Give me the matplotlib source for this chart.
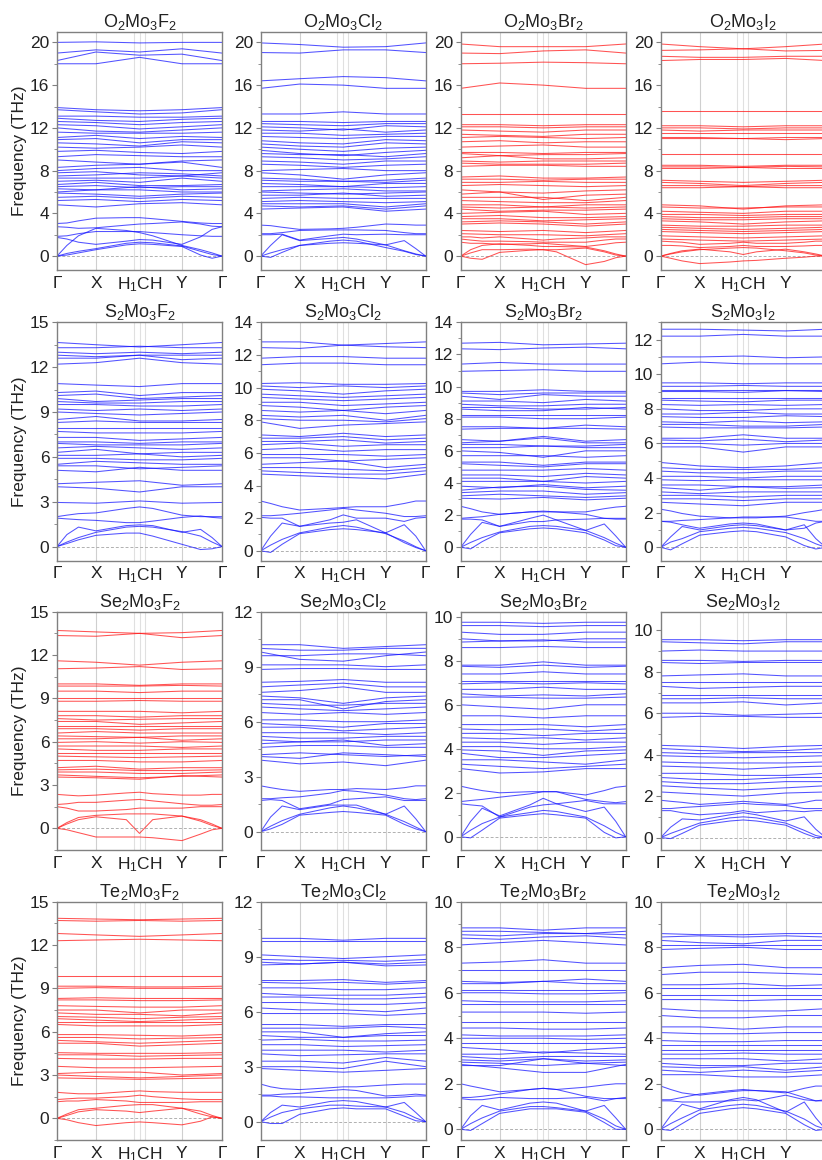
import re
import numpy as np
import matplotlib
matplotlib.use('Agg')
import matplotlib.pyplot as plt
from matplotlib.ticker import MultipleLocator, AutoMinorLocator

plt.rcParams['font.family'] = ['Liberation Sans', 'DejaVu Sans']
plt.rcParams['mathtext.default'] = 'regular'

# high-symmetry path (fraction of total path length)
K_TICKS = [0.0, 0.236, 0.465, 0.50, 0.532, 0.757, 1.0]
K_LABELS = ['Γ', 'X', '', 'H$_1$CH', '', 'Y', 'Γ']
K_OPT = [0.0, 0.236, 0.50, 0.757, 1.0]                                   # Γ X C Y Γ
K_LOW = [0.0, 0.06, 0.13, 0.236, 0.42, 0.50, 0.58, 0.757, 0.87, 0.94, 1.0]

NAMES = ['O2Mo3F2', 'O2Mo3Cl2', 'O2Mo3Br2', 'O2Mo3I2',
         'S2Mo3F2', 'S2Mo3Cl2', 'S2Mo3Br2', 'S2Mo3I2',
         'Se2Mo3F2', 'Se2Mo3Cl2', 'Se2Mo3Br2', 'Se2Mo3I2',
         'Te2Mo3F2', 'Te2Mo3Cl2', 'Te2Mo3Br2', 'Te2Mo3I2']
UNSTABLE = ['O2Mo3Br2', 'O2Mo3I2', 'Se2Mo3F2', 'Te2Mo3F2']

# optical bands: value at Γ, X, C, Y (scalar = flat)
# low bands: value at each K_LOW point except the closing Γ (optional 11th = closing Γ)
O2Mo3F2_OPT = [(20.0, 20.05, 19.95, 20.0), (19.0, 19.3, 19.1, 19.4), (18.3, 19.1, 18.8, 18.9),
               (18.0, 18.0, 18.6, 18.0), (13.9, 13.7, 13.6, 13.7), (13.7, 13.5, 13.3, 13.4),
               (13.1, 13.1, 13.0, 13.0), (12.9, 12.7, 12.6, 12.8), (12.6, 12.5, 12.3, 12.5),
               (12.3, 12.2, 11.9, 12.1), (12.0, 11.7, 11.6, 11.8), (11.6, 11.5, 11.5, 11.5),
               (11.1, 11.3, 11.0, 11.2), (10.9, 11.0, 10.6, 10.9), (10.6, 10.5, 10.3, 10.7),
               (10.2, 10.1, 10.2, 10.4), (9.8, 9.9, 9.7, 9.6), (9.3, 9.5, 9.4, 9.3),
               (9.0, 8.8, 8.6, 8.9), (8.3, 8.5, 8.6, 8.8), (8.0, 8.2, 8.3, 8.0),
               (7.8, 7.9, 7.6, 7.5), (7.5, 7.6, 7.8, 7.7), (7.3, 7.3, 7.3, 7.5),
               (7.0, 7.1, 6.9, 7.3), (6.7, 6.9, 6.6, 6.6), (6.5, 6.6, 6.4, 6.5),
               (6.3, 6.2, 6.5, 6.2), (6.0, 6.2, 6.2, 6.0), (5.9, 5.8, 5.6, 5.8),
               (5.5, 5.6, 5.4, 5.6), (5.2, 5.3, 5.1, 5.3), (4.8, 4.6, 4.9, 5.0)]
O2Mo3F2_LOW = [(3.05, 3.1, 3.3, 3.55, 3.6, 3.6, 3.5, 3.25, 3.1, 3.05),
               (2.75, 2.7, 2.6, 2.65, 2.9, 3.0, 3.05, 3.2, 3.0, 2.8),
               (1.85, 1.9, 2.1, 2.3, 2.3, 2.3, 2.2, 2.0, 1.9, 1.85),
               (1.75, 1.6, 1.3, 1.1, 1.4, 1.55, 1.5, 1.1, 1.8, 2.5, 2.75),
               (0, 1.0, 1.9, 2.6, 2.4, 2.2, 1.9, 1.0, 0.6, 0.3),
               (0, 0.25, 0.45, 0.7, 1.2, 1.3, 1.25, 0.95, 0.45, 0.15),
               (0, 0.1, 0.3, 0.6, 1.05, 1.15, 1.1, 0.9, 0.1, -0.2)]

O2Mo3Cl2_OPT = [(19.95, 19.8, 19.55, 19.6), (19.05, 19.0, 19.3, 19.3), (16.4, 16.6, 16.8, 16.7),
                (15.7, 16.1, 16.0, 15.7), (13.3, 13.3, 13.5, 13.3), (12.6, 12.6, 12.5, 12.6),
                (12.4, 12.3, 12.2, 12.4), (12.1, 12.0, 11.8, 12.2), (11.8, 11.7, 11.9, 11.6),
                (11.5, 11.5, 11.3, 11.4), (11.2, 11.1, 11.0, 11.2), (10.8, 10.6, 10.5, 10.9),
                (10.5, 10.3, 10.2, 10.6), (10.2, 10.0, 9.8, 10.1), (9.9, 9.6, 9.4, 9.7),
                (9.6, 9.5, 9.5, 9.3), (9.3, 9.2, 9.0, 9.1), (8.9, 8.8, 8.6, 8.9),
                (8.6, 8.5, 8.3, 8.5), (8.0, 8.1, 8.2, 8.0), (7.8, 7.6, 7.2, 7.6),
                (7.3, 7.2, 7.0, 7.1), (7.1, 7.0, 7.0, 6.9), (6.8, 6.7, 6.5, 6.8),
                (6.5, 6.5, 6.5, 6.4), (6.1, 6.2, 6.3, 6.1), (6.0, 5.9, 5.8, 5.9),
                (5.7, 5.7, 5.9, 5.6), (5.4, 5.5, 5.4, 5.4), (5.1, 5.2, 5.1, 5.0),
                (4.9, 4.9, 4.9, 4.6), (4.7, 4.6, 4.7, 4.4), (4.4, 4.5, 4.6, 4.2)]
O2Mo3Cl2_LOW = [(2.9, 2.85, 2.7, 2.5, 2.55, 2.6, 2.7, 3.0, 2.95, 2.9),
                (2.1, 2.1, 2.2, 2.4, 2.45, 2.45, 2.45, 2.4, 2.2, 2.1),
                (2.0, 2.0, 2.05, 1.5, 1.9, 2.05, 2.0, 2.05, 2.0, 2.0),
                (0, 1.0, 2.0, 1.45, 1.65, 1.75, 1.6, 1.05, 1.45, 0.7),
                (0, 0.3, 0.6, 1.0, 1.4, 1.5, 1.4, 0.8, 0.45, 0.15),
                (0, -0.12, 0.35, 1.0, 1.2, 1.25, 1.2, 1.05, 0.5, 0.2)]

O2Mo3Br2_OPT = [(19.85, 19.6, 19.6, 19.6), (19.0, 18.95, 19.2, 19.3), (18.0, 18.05, 18.15, 18.1),
                (15.7, 16.2, 16.0, 15.7), 13.3, (12.3, 12.3, 12.2, 12.3),
                (12.1, 12.1, 12.0, 12.1), (11.8, 11.7, 11.6, 11.8), (11.4, 11.3, 11.2, 11.4),
                (11.1, 11.2, 11.1, 11.0), (10.7, 10.8, 10.6, 10.7), (10.2, 10.3, 10.4, 10.2),
                (9.7, 9.7, 9.6, 9.7), (9.6, 9.4, 9.5, 9.5), (9.2, 9.4, 9.1, 9.1),
                (8.9, 8.8, 8.9, 8.9), (8.7, 8.6, 8.6, 8.6), (8.4, 8.5, 8.5, 8.4),
                (7.4, 7.5, 7.3, 7.3), (7.2, 7.2, 7.1, 7.2), (6.9, 6.9, 7.0, 6.9),
                (6.6, 6.7, 6.6, 6.5), (6.2, 6.0, 5.9, 6.1), (5.8, 6.0, 5.3, 5.7),
                (5.5, 5.5, 5.5, 5.2), (5.2, 5.1, 5.0, 5.0), (4.8, 4.8, 4.6, 4.8),
                (4.6, 4.5, 4.6, 4.5), (4.4, 4.2, 4.3, 4.3), (4.0, 4.1, 4.2, 3.9),
                (3.7, 3.8, 3.6, 3.6), (3.5, 3.5, 3.3, 3.4), (3.2, 3.3, 3.2, 3.0),
                (3.0, 3.1, 3.0, 2.8), (2.4, 2.3, 2.4, 2.2), (2.1, 2.0, 2.0, 1.9)]
O2Mo3Br2_LOW = [(1.8, 1.8, 1.7, 1.8, 1.6, 1.5, 1.6, 1.7, 1.8, 1.8),
                (1.6, 1.5, 1.4, 1.4, 1.35, 1.3, 1.3, 1.3, 1.5, 1.6),
                (1.3, 1.2, 1.2, 1.1, 1.15, 1.2, 1.1, 0.9, 1.1, 1.25),
                (0, 0.6, 1.0, 1.15, 1.0, 0.9, 0.9, 0.85, 0.5, 0.2),
                (0, -0.2, -0.3, 0.35, 0.55, 0.6, 0.4, -0.8, -0.5, -0.15),
                (0, 0.3, 0.6, 0.6, 0.65, 0.6, 0.6, 0.75, 0.4, 0.1)]

O2Mo3I2_OPT = [(19.85, 19.6, 19.4, 19.6), (19.25, 19.3, 19.4, 19.2), (18.7, 18.6, 18.6, 18.7),
               (18.3, 18.4, 18.4, 18.5), 13.6, (12.2, 12.2, 12.1, 12.2),
               (12.0, 12.0, 11.9, 12.0), (11.8, 11.7, 11.8, 11.8), (11.5, 11.5, 11.5, 11.5),
               (11.1, 11.1, 11.0, 11.1), (11.0, 11.0, 11.0, 10.9), 9.6,
               (8.5, 8.5, 8.4, 8.5), (8.35, 8.35, 8.3, 8.4), (8.2, 8.2, 8.3, 8.2),
               (7.1, 7.0, 6.9, 7.0), (6.9, 6.8, 6.6, 6.8), (6.6, 6.6, 6.5, 6.6),
               (6.4, 6.4, 6.5, 6.4), (4.8, 4.7, 4.4, 4.7), (4.6, 4.5, 4.5, 4.6),
               (4.2, 4.1, 4.0, 4.2), (3.9, 3.9, 3.8, 3.9), (3.7, 3.6, 3.6, 3.7),
               (3.5, 3.4, 3.4, 3.5), (3.3, 3.2, 3.0, 3.2), (2.9, 2.8, 2.8, 2.9),
               (2.7, 2.6, 2.5, 2.6), (2.5, 2.4, 2.3, 2.4), (2.3, 2.2, 2.1, 2.2),
               (1.9, 1.8, 1.7, 1.8), (1.6, 1.5, 1.4, 1.5)]
O2Mo3I2_LOW = [(1.4, 1.35, 1.3, 1.1, 1.2, 1.3, 1.2, 1.2, 1.3, 1.4),
               (1.0, 1.0, 0.95, 0.8, 0.9, 1.0, 0.9, 0.9, 0.95, 1.0),
               (0, 0.25, 0.5, 0.65, 0.4, 0.15, 0.4, 0.65, 0.4, 0.2),
               (0, 0.2, 0.4, 0.6, 0.75, 0.8, 0.75, 0.5, 0.3, 0.1),
               (0, -0.2, -0.45, -0.7, -0.55, -0.45, -0.4, -0.2, -0.1, 0.0)]

S2Mo3F2_OPT = [(13.65, 13.5, 13.35, 13.5), (13.3, 13.3, 13.4, 13.3), (13.0, 12.9, 13.0, 12.9),
               (12.8, 12.7, 12.8, 12.8), (12.6, 12.6, 12.8, 12.5), (12.2, 12.3, 12.6, 12.3),
               (10.9, 10.8, 10.7, 10.9), (10.3, 10.4, 10.1, 10.3), (10.1, 10.2, 9.9, 10.0),
               (9.9, 9.7, 9.8, 9.9), (9.7, 9.6, 9.6, 9.7), (9.5, 9.5, 9.4, 9.4),
               (9.2, 9.1, 9.2, 9.1), (9.0, 8.9, 8.8, 8.9), (8.5, 8.7, 8.4, 8.4),
               (8.3, 8.4, 8.3, 8.3), (7.9, 7.9, 7.9, 7.9), (7.7, 7.6, 7.6, 7.6),
               (7.3, 7.3, 7.1, 7.2), (7.0, 7.0, 6.9, 7.0), (6.9, 6.8, 6.8, 6.8),
               (6.6, 6.7, 6.6, 6.5), (6.3, 6.5, 6.2, 6.3), (6.1, 6.1, 6.2, 6.0),
               (5.9, 5.9, 5.8, 5.8), (5.5, 5.7, 5.6, 5.5), (5.4, 5.4, 5.2, 5.3),
               (5.1, 5.0, 5.3, 5.1), (4.2, 4.3, 4.4, 4.1), (4.0, 3.9, 3.65, 4.0),
               (2.95, 2.9, 3.05, 2.9)]
S2Mo3F2_LOW = [(2.0, 2.1, 2.2, 2.25, 2.55, 2.65, 2.55, 2.1, 2.0, 2.0),
               (1.9, 1.85, 1.8, 1.75, 1.6, 1.6, 1.7, 1.95, 2.05, 1.95),
               (0, 0.8, 1.3, 1.05, 1.4, 1.45, 1.4, 0.95, 1.15, 0.6),
               (0, 0.3, 0.6, 0.95, 1.3, 1.35, 1.3, 1.0, 0.7, 0.3),
               (0, 0.2, 0.45, 0.75, 0.9, 0.9, 0.7, 0.15, -0.2, -0.15)]

S2Mo3Cl2_OPT = [(12.8, 12.8, 12.6, 12.7), (12.45, 12.4, 12.6, 12.5), (11.8, 11.9, 11.9, 11.8),
                (11.4, 11.5, 11.5, 11.4), (10.25, 10.3, 10.2, 10.2), (10.1, 10.0, 10.1, 10.0),
                (9.9, 9.8, 9.6, 9.8), (9.6, 9.5, 9.4, 9.5), (9.4, 9.3, 9.2, 9.3),
                (9.1, 9.1, 8.9, 9.0), (8.9, 8.8, 8.6, 8.8), (8.6, 8.5, 8.6, 8.4),
                (8.3, 8.2, 8.3, 8.0), (8.1, 8.0, 8.0, 7.9), (7.9, 7.5, 7.7, 7.8),
                (7.1, 7.0, 7.2, 7.0), (6.9, 6.9, 7.0, 6.8), (6.7, 6.7, 6.8, 6.6),
                (6.5, 6.6, 6.4, 6.5), (6.2, 6.3, 6.1, 6.2), (5.9, 5.9, 5.9, 5.8),
                (5.7, 5.7, 5.5, 5.6), (5.3, 5.4, 5.5, 5.1), (5.1, 5.1, 5.0, 4.9),
                (4.9, 4.8, 4.7, 4.7), (4.7, 4.6, 4.5, 4.4)]
S2Mo3Cl2_LOW = [(3.05, 2.9, 2.7, 2.5, 2.6, 2.65, 2.7, 2.7, 2.9, 3.05),
                (2.15, 2.15, 2.2, 2.3, 2.5, 2.6, 2.5, 2.3, 2.1, 2.1),
                (2.05, 2.0, 2.0, 1.5, 1.9, 2.2, 2.0, 2.0, 1.8, 2.0),
                (0, 0.9, 1.7, 1.5, 1.7, 1.75, 1.9, 1.1, 1.6, 0.9),
                (0, 0.35, 0.7, 1.1, 1.45, 1.55, 1.45, 1.05, 0.6, 0.25),
                (0, -0.1, 0.4, 1.05, 1.3, 1.35, 1.3, 1.1, 0.5, 0.2)]

S2Mo3Br2_OPT = [(12.7, 12.75, 12.6, 12.65), (12.35, 12.3, 12.4, 12.45), (11.4, 11.5, 11.4, 11.4),
                (10.95, 11.0, 11.05, 10.95), (9.7, 9.7, 9.8, 9.7), (9.6, 9.5, 9.6, 9.6),
                (9.4, 9.2, 9.5, 9.4), (9.1, 9.1, 9.0, 9.2), (8.9, 8.8, 8.8, 8.9),
                (8.7, 8.7, 8.6, 8.6), (8.6, 8.5, 8.5, 8.7), (8.2, 8.2, 8.2, 8.2),
                (8.1, 8.1, 8.0, 8.0), (7.5, 7.5, 7.4, 7.6), (7.35, 7.4, 7.4, 7.4),
                (6.7, 6.6, 6.9, 6.6), (6.5, 6.6, 6.8, 6.5), (6.4, 6.4, 6.3, 6.3),
                (6.2, 6.2, 6.3, 6.2), (6.0, 5.9, 5.6, 6.0), (5.7, 5.7, 5.7, 5.6),
                (5.3, 5.3, 5.1, 5.3), (5.2, 5.1, 5.0, 5.2), (4.8, 4.8, 4.8, 4.9),
                (4.5, 4.5, 4.4, 4.6), (4.3, 4.3, 4.1, 4.4), (4.1, 4.1, 4.1, 4.0),
                (3.8, 3.7, 3.9, 3.7), (3.55, 3.75, 3.8, 3.6), (3.4, 3.5, 3.5, 3.3),
                (3.2, 3.3, 3.2, 3.1), (3.05, 3.0, 3.1, 2.95)]
S2Mo3Br2_LOW = [(2.55, 2.4, 2.2, 2.05, 2.2, 2.2, 2.2, 2.2, 2.4, 2.5),
                (1.8, 1.85, 1.9, 2.05, 2.2, 2.25, 2.2, 2.05, 1.8, 1.8),
                (1.75, 1.75, 1.7, 1.3, 1.8, 2.0, 1.7, 1.75, 1.8, 1.75),
                (0, 0.8, 1.55, 1.3, 1.6, 1.6, 1.7, 1.05, 1.45, 0.7),
                (0, 0.3, 0.6, 0.95, 1.3, 1.35, 1.3, 1.05, 0.6, 0.25),
                (0, -0.1, 0.35, 0.9, 1.15, 1.2, 1.15, 0.9, 0.45, 0.1)]

S2Mo3I2_OPT = [(12.6, 12.6, 12.55, 12.5), (12.2, 12.2, 12.3, 12.2), (11.0, 11.0, 11.05, 10.95),
               (10.6, 10.7, 10.6, 10.6), (9.5, 9.5, 9.45, 9.5), (9.3, 9.3, 9.35, 9.3),
               (9.1, 9.1, 9.1, 9.1), (9.0, 9.0, 8.95, 9.05), (8.6, 8.6, 8.6, 8.6),
               (8.5, 8.45, 8.4, 8.5), (8.25, 8.2, 8.25, 8.2), (8.0, 7.9, 7.9, 8.0),
               (7.7, 7.7, 7.8, 7.7), (7.55, 7.5, 7.5, 7.6), (7.25, 7.2, 7.3, 7.2),
               (7.1, 7.1, 7.0, 7.0), (6.95, 6.9, 6.9, 6.9), (6.3, 6.3, 6.5, 6.3),
               (6.2, 6.15, 6.25, 6.1), (6.0, 6.0, 5.9, 6.0), (5.8, 5.8, 5.5, 5.8),
               (4.9, 4.7, 4.6, 4.7), (4.6, 4.5, 4.5, 4.5), (4.4, 4.3, 4.3, 4.4),
               (4.1, 4.1, 4.0, 4.1), (3.9, 3.85, 3.9, 3.9), (3.6, 3.6, 3.5, 3.5),
               (3.45, 3.3, 3.5, 3.4), (3.2, 3.1, 3.2, 3.2), (3.0, 3.0, 2.9, 3.0),
               (2.8, 2.8, 2.7, 2.8), (2.6, 2.5, 2.4, 2.6)]
S2Mo3I2_LOW = [(2.2, 2.1, 1.95, 1.8, 1.7, 1.7, 1.7, 1.8, 2.0, 2.1),
               (1.5, 1.5, 1.55, 1.6, 1.7, 1.75, 1.75, 1.75, 1.6, 1.5),
               (1.5, 1.45, 1.3, 1.1, 1.35, 1.4, 1.35, 1.0, 1.1, 1.4),
               (0, 0.6, 1.2, 1.0, 1.25, 1.3, 1.25, 1.0, 1.3, 0.5),
               (0, 0.3, 0.5, 0.9, 1.1, 1.15, 1.1, 0.85, 0.5, 0.2),
               (0, -0.15, 0.2, 0.7, 0.9, 0.95, 0.9, 0.6, 0.1, -0.1)]

Se2Mo3F2_OPT = [(13.7, 13.6, 13.5, 13.55), (13.35, 13.3, 13.5, 13.2), (11.6, 11.5, 11.3, 11.5),
                (11.05, 11.1, 11.2, 11.0), (10.0, 10.0, 9.9, 10.0), (9.85, 9.85, 9.85, 9.9),
                (9.5, 9.5, 9.4, 9.5), (9.0, 9.0, 9.0, 9.0), (8.8, 8.8, 8.85, 8.8),
                (8.1, 8.1, 8.1, 8.0), (7.8, 7.8, 7.7, 7.8), (7.6, 7.5, 7.55, 7.6),
                (7.4, 7.4, 7.2, 7.3), (7.1, 7.1, 7.1, 7.1), (6.9, 6.9, 6.8, 6.9),
                (6.6, 6.7, 6.6, 6.6), (6.4, 6.35, 6.3, 6.4), (6.2, 6.2, 6.3, 6.1),
                (5.95, 6.0, 5.9, 6.0), (5.7, 5.7, 5.7, 5.6), (5.5, 5.4, 5.4, 5.5),
                (5.2, 5.2, 5.2, 5.2), (5.0, 4.95, 4.9, 4.95), (4.7, 4.7, 4.6, 4.6),
                (4.2, 4.3, 4.1, 4.2), (4.05, 4.1, 4.0, 4.0), (3.9, 3.9, 3.8, 3.8),
                (3.7, 3.6, 3.5, 3.6), (3.55, 3.5, 3.4, 3.65)]
Se2Mo3F2_LOW = [(2.35, 2.3, 2.25, 2.3, 2.45, 2.5, 2.4, 2.3, 2.3, 2.35),
                (1.65, 1.7, 1.8, 1.8, 1.95, 2.0, 1.9, 1.7, 1.6, 1.6),
                (1.5, 1.4, 1.2, 1.2, 1.3, 1.4, 1.4, 1.4, 1.5, 1.5),
                (0, 0.4, 0.75, 0.9, 1.0, 1.0, 1.0, 0.85, 0.6, 0.3),
                (0, 0.3, 0.6, 0.8, 0.6, -0.35, 0.6, 0.85, 0.5, 0.2),
                (0, -0.1, -0.3, -0.6, -0.6, -0.6, -0.65, -0.85, -0.4, -0.1)]

Se2Mo3Cl2_OPT = [(10.2, 10.2, 10.0, 10.1), (10.0, 9.9, 9.9, 10.0), (9.8, 9.4, 9.3, 9.6),
                 (9.6, 9.6, 9.7, 9.7), (9.1, 9.1, 9.1, 9.0), (8.85, 8.9, 8.9, 8.85),
                 (8.15, 8.2, 8.3, 8.15), (7.9, 8.0, 8.1, 7.9), (7.6, 7.7, 7.9, 7.6),
                 (7.4, 7.3, 7.0, 7.3), (7.2, 7.2, 6.7, 7.1), (7.0, 6.9, 6.9, 7.0),
                 (6.8, 6.7, 6.6, 6.7), (6.5, 6.4, 6.5, 6.4), (6.1, 6.1, 6.0, 6.0),
                 (5.9, 5.8, 5.7, 5.9), (5.7, 5.7, 5.5, 5.6), (5.4, 5.4, 5.4, 5.3),
                 (5.2, 5.1, 5.1, 5.2), (5.0, 4.9, 4.9, 5.0), (4.8, 4.9, 5.0, 4.7),
                 (4.6, 4.7, 4.7, 4.6), (4.2, 4.3, 4.2, 4.1), (4.1, 4.0, 4.3, 4.2),
                 (3.9, 3.7, 3.8, 3.6)]
Se2Mo3Cl2_LOW = [(2.5, 2.4, 2.3, 2.2, 2.3, 2.3, 2.35, 2.3, 2.4, 2.5),
                 (1.8, 1.8, 1.85, 1.9, 2.1, 2.25, 2.2, 2.0, 1.8, 1.75),
                 (1.7, 1.75, 1.7, 1.25, 1.5, 1.75, 1.8, 1.9, 1.7, 1.7),
                 (0, 0.8, 1.4, 1.2, 1.45, 1.45, 1.45, 0.95, 1.4, 0.7),
                 (0, 0.3, 0.6, 0.95, 1.3, 1.4, 1.3, 0.95, 0.55, 0.25),
                 (0, 0.15, 0.4, 0.9, 1.05, 1.1, 1.05, 0.9, 0.4, 0.15)]

Se2Mo3Br2_OPT = [(9.75, 9.75, 9.7, 9.75), (9.6, 9.6, 9.55, 9.6), (9.3, 9.2, 9.2, 9.3),
                 (9.0, 8.9, 8.9, 9.0), (8.85, 8.9, 8.95, 8.85), (8.6, 8.6, 8.65, 8.6),
                 (7.8, 7.8, 7.95, 7.8), (7.75, 7.7, 7.8, 7.7), (7.4, 7.4, 7.5, 7.4),
                 (7.1, 7.1, 7.1, 7.1), (6.95, 7.0, 6.95, 7.0), (6.7, 6.7, 6.8, 6.7),
                 (6.5, 6.4, 6.45, 6.4), (6.35, 6.35, 6.3, 6.3), (6.0, 5.9, 5.8, 6.0),
                 (5.5, 5.5, 5.4, 5.5), (5.1, 5.1, 5.1, 5.0), (4.9, 4.85, 4.9, 4.8),
                 (4.7, 4.7, 4.6, 4.7), (4.5, 4.45, 4.5, 4.4), (4.3, 4.3, 4.2, 4.3),
                 (4.1, 4.1, 4.0, 4.0), (3.95, 3.9, 3.7, 3.9), (3.8, 3.6, 3.6, 3.7),
                 (3.5, 3.5, 3.4, 3.3), (3.3, 3.2, 3.1, 3.2), (3.1, 2.9, 2.95, 3.1)]
Se2Mo3Br2_LOW = [(2.3, 2.2, 2.1, 2.0, 2.05, 2.05, 2.05, 1.9, 2.1, 2.25),
                 (1.6, 1.65, 1.7, 1.8, 1.95, 2.05, 2.05, 1.7, 1.6, 1.55),
                 (1.5, 1.45, 1.4, 0.9, 1.35, 1.45, 1.5, 1.65, 1.5, 1.5),
                 (0, 0.7, 1.3, 0.95, 1.45, 1.75, 1.5, 1.15, 1.35, 0.7),
                 (0, 0.3, 0.6, 0.9, 1.1, 1.2, 1.15, 0.9, 0.5, 0.2),
                 (0, -0.05, 0.3, 0.85, 1.0, 1.05, 1.0, 0.85, 0.2, -0.05)]

Se2Mo3I2_OPT = [(9.55, 9.55, 9.5, 9.55), (9.45, 9.4, 9.35, 9.45), (9.0, 9.05, 9.0, 9.0),
                (8.55, 8.55, 8.5, 8.55), (8.45, 8.4, 8.45, 8.45), (7.8, 7.85, 7.9, 7.8),
                (7.5, 7.5, 7.5, 7.5), (7.3, 7.2, 7.25, 7.3), (6.9, 6.9, 6.9, 6.9),
                (6.7, 6.7, 6.75, 6.7), (6.5, 6.5, 6.55, 6.4), (6.0, 6.0, 5.9, 5.95),
                (5.8, 5.85, 5.85, 5.8), (4.45, 4.4, 4.3, 4.4), (4.3, 4.2, 4.15, 4.2),
                (4.1, 4.05, 4.1, 4.1), (3.95, 3.9, 3.85, 3.9), (3.65, 3.6, 3.6, 3.6),
                (3.45, 3.4, 3.3, 3.4), (3.1, 3.1, 3.0, 3.0), (2.9, 2.8, 2.8, 2.9),
                (2.7, 2.6, 2.6, 2.7), (2.5, 2.4, 2.3, 2.4), (2.2, 2.1, 2.0, 2.15)]
Se2Mo3I2_LOW = [(1.8, 1.75, 1.7, 1.6, 1.7, 1.75, 1.7, 1.6, 1.7, 1.8),
                (1.4, 1.4, 1.45, 1.5, 1.6, 1.65, 1.6, 1.55, 1.4, 1.4),
                (1.3, 1.3, 1.2, 1.1, 1.2, 1.3, 1.2, 1.3, 1.25, 1.3),
                (0, 0.5, 0.9, 0.85, 1.1, 1.2, 1.1, 0.8, 1.0, 0.4),
                (0, 0.2, 0.4, 0.7, 0.95, 1.0, 0.95, 0.7, 0.35, 0.1),
                (0, -0.05, 0.2, 0.6, 0.8, 0.85, 0.8, 0.6, 0.2, 0.0)]

Te2Mo3F2_OPT = [(13.85, 13.8, 13.75, 13.8), (13.7, 13.65, 13.7, 13.65), (12.8, 12.7, 12.6, 12.7),
                (12.3, 12.35, 12.4, 12.35), 9.85, (9.15, 9.15, 9.1, 9.1),
                (9.0, 9.05, 9.0, 9.0), (8.3, 8.35, 8.3, 8.3), (8.2, 8.2, 8.15, 8.15),
                (7.8, 7.75, 7.7, 7.7), (7.5, 7.5, 7.3, 7.5), (7.3, 7.2, 7.2, 7.1),
                (7.05, 7.0, 6.9, 7.0), (6.9, 6.8, 6.7, 6.8), 6.65,
                (6.5, 6.4, 6.4, 6.4), (5.8, 5.8, 5.75, 5.7), (5.6, 5.6, 5.5, 5.55),
                (5.4, 5.3, 5.2, 5.3), (5.2, 5.2, 5.0, 5.1), (4.55, 4.5, 4.5, 4.5),
                (4.4, 4.4, 4.3, 4.35), (4.15, 4.1, 4.1, 4.15), (3.6, 3.5, 3.5, 3.55),
                (3.1, 3.2, 3.2, 3.0), (3.0, 2.9, 2.8, 2.9), (2.8, 2.75, 2.7, 2.75)]
Te2Mo3F2_LOW = [(1.8, 1.75, 1.7, 1.7, 1.85, 1.9, 1.85, 1.8, 1.8, 1.8),
                (1.3, 1.35, 1.4, 1.4, 1.5, 1.6, 1.5, 1.35, 1.3, 1.3),
                (1.15, 1.2, 1.2, 1.3, 1.2, 1.1, 1.1, 1.1, 1.15, 1.15),
                (0, 0.3, 0.6, 0.7, 0.9, 0.95, 0.95, 0.7, 0.5, 0.2),
                (0, 0.2, 0.45, 0.6, 0.5, 0.4, 0.5, 0.7, 0.3, 0.1),
                (0, -0.1, -0.3, -0.5, -0.3, -0.25, -0.3, -0.45, -0.2, 0.1)]

Te2Mo3Cl2_OPT = [(10.0, 10.0, 9.9, 10.0), 9.85, (9.1, 9.0, 8.9, 9.0),
                 (8.85, 8.8, 8.8, 8.75), (8.7, 8.6, 8.7, 8.6), (8.55, 8.6, 8.7, 8.5),
                 (7.7, 7.7, 7.75, 7.6), (7.6, 7.55, 7.6, 7.5), (7.3, 7.3, 7.2, 7.2),
                 (7.0, 6.9, 6.9, 6.9), (6.8, 6.8, 6.7, 6.7), (6.5, 6.5, 6.4, 6.4),
                 (6.2, 6.1, 6.1, 6.0), (5.9, 5.9, 5.9, 5.8), (5.3, 5.3, 5.2, 5.3),
                 (5.1, 5.1, 5.1, 5.2), (4.9, 4.9, 4.6, 4.8), (4.7, 4.6, 4.6, 4.7),
                 (4.45, 4.5, 4.4, 4.4), (4.2, 4.2, 4.1, 4.15), (3.9, 3.9, 3.9, 3.8),
                 (3.7, 3.6, 3.65, 3.7), (3.3, 3.3, 3.2, 3.5), (3.0, 3.0, 2.9, 3.3),
                 (2.9, 2.8, 2.7, 2.8)]
Te2Mo3Cl2_LOW = [(2.05, 1.9, 1.8, 1.75, 1.85, 1.9, 1.9, 2.0, 2.05, 2.05),
                 (1.45, 1.45, 1.5, 1.55, 1.7, 1.75, 1.7, 1.4, 1.45, 1.5),
                 (1.4, 1.4, 1.35, 1.35, 1.3, 1.3, 1.3, 1.3, 1.35, 1.4),
                 (0, 0.5, 0.9, 0.8, 1.1, 1.15, 1.1, 0.8, 1.05, 0.5),
                 (0, 0.25, 0.5, 0.7, 0.9, 0.9, 0.85, 0.8, 0.5, 0.2),
                 (0, -0.1, -0.1, 0.4, 0.7, 0.75, 0.7, 0.7, 0.3, 0.05)]

Te2Mo3Br2_OPT = [(8.85, 8.85, 8.75, 8.85), (8.7, 8.7, 8.65, 8.6), (8.55, 8.5, 8.6, 8.6),
                 (8.4, 8.35, 8.45, 8.5), (8.1, 8.2, 8.3, 8.2), (7.3, 7.35, 7.45, 7.3),
                 7.0, (6.5, 6.45, 6.5, 6.6), (6.4, 6.4, 6.5, 6.4),
                 6.1, (6.0, 6.0, 5.95, 5.95), (5.65, 5.6, 5.6, 5.6),
                 5.5, (5.15, 5.15, 5.15, 5.1), 4.7,
                 (4.45, 4.45, 4.4, 4.4), (4.15, 4.1, 4.1, 4.1), (4.0, 4.0, 4.0, 3.95),
                 3.8, (3.6, 3.5, 3.35, 3.5), (3.3, 3.3, 3.4, 3.35),
                 (3.2, 3.1, 3.2, 3.2), (3.05, 3.0, 3.1, 3.0), (2.95, 2.9, 2.8, 2.9),
                 (2.85, 2.7, 2.5, 2.5), (2.8, 2.8, 3.1, 2.9)]
Te2Mo3Br2_LOW = [(2.0, 1.9, 1.8, 1.65, 1.75, 1.8, 1.75, 1.85, 1.95, 2.0),
                 (1.4, 1.4, 1.45, 1.55, 1.75, 1.8, 1.75, 1.45, 1.35, 1.35),
                 (1.35, 1.3, 1.3, 1.4, 1.35, 1.35, 1.35, 1.4, 1.25, 1.35),
                 (0, 0.6, 1.05, 0.85, 1.15, 1.2, 1.15, 0.8, 1.05, 0.5),
                 (0, 0.25, 0.5, 0.8, 1.0, 1.0, 0.95, 0.8, 0.45, 0.15),
                 (0, -0.05, 0.25, 0.7, 0.9, 0.9, 0.9, 0.75, 0.3, 0.0)]

Te2Mo3I2_OPT = [(8.6, 8.55, 8.55, 8.6), (8.45, 8.5, 8.45, 8.5), (8.3, 8.2, 8.15, 8.3),
                8.1, (7.9, 7.95, 8.0, 7.9), (7.1, 7.2, 7.25, 7.1),
                (6.8, 6.9, 6.9, 6.85), (6.35, 6.35, 6.4, 6.3), 6.2,
                5.9, (5.7, 5.7, 5.65, 5.7), (5.3, 5.2, 5.2, 5.2),
                (5.0, 4.9, 4.9, 5.0), (4.5, 4.5, 4.4, 4.5), (4.25, 4.2, 4.2, 4.25),
                (3.9, 3.85, 3.85, 3.9), 3.7, 3.5,
                (3.3, 3.3, 3.35, 3.3), (3.1, 3.1, 3.1, 3.0), (2.9, 2.8, 2.8, 2.9),
                (2.75, 2.7, 2.75, 2.6), (2.6, 2.5, 2.6, 2.5), (2.4, 2.4, 2.3, 2.3)]
Te2Mo3I2_LOW = [(1.9, 1.75, 1.6, 1.5, 1.65, 1.7, 1.7, 1.6, 1.8, 1.9),
                (1.3, 1.3, 1.4, 1.55, 1.7, 1.75, 1.7, 1.65, 1.4, 1.25),
                (1.25, 1.25, 1.2, 1.2, 1.25, 1.3, 1.25, 1.5, 1.3, 1.25),
                (0, 0.6, 1.1, 0.9, 1.3, 1.4, 1.3, 0.75, 1.2, 0.5),
                (0, 0.25, 0.5, 0.85, 1.05, 1.1, 1.05, 0.8, 0.45, 0.15),
                (0, -0.05, 0.25, 0.7, 0.9, 0.95, 0.9, 0.7, 0.2, -0.05)]

BANDS = {n: (globals()[n + '_OPT'], globals()[n + '_LOW']) for n in NAMES}

# axis range (ymin, ymax, major step) per panel
YAXIS = {'O2Mo3F2': (-1.3, 21, 4), 'O2Mo3Cl2': (-1.3, 21, 4), 'O2Mo3Br2': (-1.3, 21, 4),
         'O2Mo3I2': (-1.3, 21, 4), 'S2Mo3F2': (-0.94, 15, 3), 'S2Mo3Cl2': (-0.6, 14, 2),
         'S2Mo3Br2': (-0.83, 14, 2), 'S2Mo3I2': (-0.77, 13, 2), 'Se2Mo3F2': (-1.5, 15, 3),
         'Se2Mo3Cl2': (-1.0, 12, 3), 'Se2Mo3Br2': (-0.6, 10.23, 2), 'Se2Mo3I2': (-0.6, 10.9, 2),
         'Te2Mo3F2': (-1.5, 15, 3), 'Te2Mo3Cl2': (-1.0, 12, 3), 'Te2Mo3Br2': (-0.47, 10, 2),
         'Te2Mo3I2': (-0.47, 10, 2)}

W, H = 822, 1160
COL_X = [57, 260.7, 460.7, 660.7]
ROW_TOP = [31.7, 322.3, 611.7, 901.7]
AX_W, AX_H = 165, 238.3


def draw_panel(ax, name):
    opt, low = BANDS[name]
    color = '#ff1010' if name in UNSTABLE else '#1010ff'
    for k, lab in zip(K_TICKS[1:-1], ['X', 'H1', 'C', 'H', 'Y']):
        ax.axvline(k, color='#cfcfcf' if lab in ('X', 'Y') else '#e0e0e0', lw=0.8, zorder=0)
    ax.axhline(0, color='#b0b0b0', lw=0.7, ls=(0, (3, 2)), zorder=1)
    for b in opt:
        vals = [b] * 4 if np.isscalar(b) else list(b)
        ax.plot(K_OPT, vals + [vals[0]], color=color, lw=0.75, alpha=0.72)
    for b in low:
        vals = list(b)
        end = vals.pop() if len(vals) == 11 else vals[0]
        ax.plot(K_LOW, vals + [end], color=color, lw=0.75, alpha=0.72)

    ymin, ymax, step = YAXIS[name]
    ax.set_xlim(0, 1)
    ax.set_ylim(ymin, ymax)
    ax.yaxis.set_major_locator(MultipleLocator(step))
    ax.yaxis.set_minor_locator(AutoMinorLocator(2))
    ax.set_xticks(K_TICKS)
    ax.set_xticklabels(K_LABELS)
    ax.tick_params(axis='x', length=0, pad=4, labelsize=12.5, labelcolor='#222222')
    ax.tick_params(axis='y', which='major', direction='out', length=3.5, width=0.8,
                   color='#808080', labelsize=12.5, labelcolor='#222222', pad=2)
    ax.tick_params(axis='y', which='minor', direction='out', length=2, width=0.6, color='#808080')
    for s in ax.spines.values():
        s.set_color('#808080')
        s.set_linewidth(1.0)
    ax.set_title(re.sub(r'(\d)', r'$_\1$', name), fontsize=13, pad=3, color='#222222')


fig = plt.figure(figsize=(W / 100, H / 100), dpi=100)
for i, name in enumerate(NAMES):
    r, c = divmod(i, 4)
    ax = fig.add_axes([COL_X[c] / W, 1 - (ROW_TOP[r] + AX_H) / H, AX_W / W, AX_H / H])
    draw_panel(ax, name)
    if c == 0:
        ax.set_ylabel('Frequency (THz)', fontsize=12.5, color='#222222', labelpad=2)

fig.savefig('out.png', dpi=100)
